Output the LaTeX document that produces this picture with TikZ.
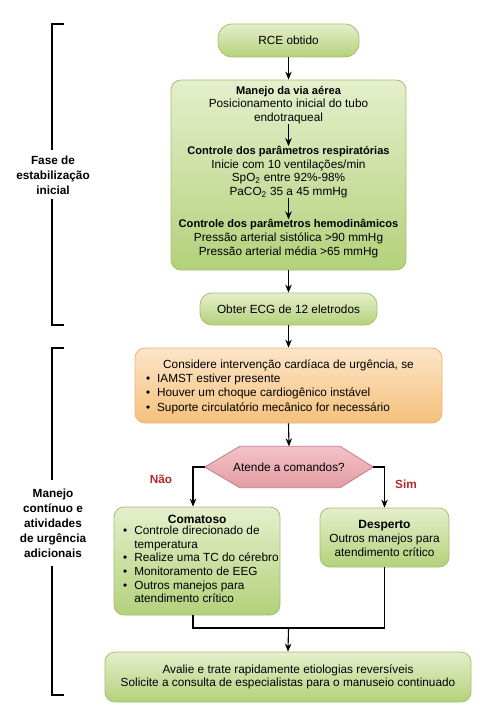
\documentclass[tikz,border=0pt]{standalone}
\usepackage{fontspec}
\setmainfont{Liberation Sans}
\usetikzlibrary{arrows.meta,calc}
\definecolor{gtop}{HTML}{E5EFCC}
\definecolor{gbot}{HTML}{B3D17B}
\definecolor{gline}{HTML}{A2C16C}
\definecolor{otop}{HTML}{FCE5C8}
\definecolor{obot}{HTML}{F5C17C}
\definecolor{oline}{HTML}{E8B578}
\definecolor{ptop}{HTML}{F3C3C7}
\definecolor{pbot}{HTML}{E49CA4}
\definecolor{pline}{HTML}{C77B83}
\definecolor{redlab}{HTML}{B02A30}
\newcommand{\hd}[1]{{\fontsize{11.1}{13.6}\selectfont\bfseries #1}}
\newcommand{\hdb}[1]{{\fontsize{12}{13.6}\selectfont\bfseries #1}}
\begin{document}
\begin{tikzpicture}[x=1pt,y=-1pt,
  every node/.style={font=\fontsize{11.8}{13.6}\selectfont, inner sep=0pt},
  gbox/.style={draw=gline, line width=0.8pt, top color=gtop, bottom color=gbot, rounded corners=10pt},
  obox/.style={draw=oline, line width=0.8pt, top color=otop, bottom color=obot, rounded corners=10pt},
  conn/.style={line width=1.1pt, -{Stealth[length=8pt,width=6.5pt]}},
  plain/.style={line width=1.1pt},
  phase/.style={font=\fontsize{11.8}{15}\selectfont\bfseries, align=center},
  yn/.style={font=\fontsize{11.8}{14}\selectfont\bfseries, text=redlab}
]
\useasboundingbox (0,0) rectangle (485,725);

% top pill
\node[gbox, rounded corners=14pt, minimum width=141pt, minimum height=33pt] (rce) at (288.5,40.5) {RCE obtido};

% big green box
\node[gbox, minimum width=235pt, minimum height=190pt] (big) at (288.5,175) {};
\node[align=center] (t1) at (288.5,105) {\hd{Manejo da via aérea}\\Posicionamento inicial do tubo\\endotraqueal};
\node[align=center] (t2) at (288.5,172) {\hd{Controle dos parâmetros respiratórias}\\Inicie com 10 ventilações/min\\SpO\textsubscript{2} entre 92\%-98\%\\PaCO\textsubscript{2} 35 a 45 mmHg};
\node[align=center] (t3) at (288.5,238.5) {\hd{Controle dos parâmetros hemodinâmicos}\\Pressão arterial sistólica >90 mmHg\\Pressão arterial média >65 mmHg};

% ECG
\node[gbox, rounded corners=12pt, minimum width=177pt, minimum height=32pt] (ecg) at (288.5,309) {Obter ECG de 12 eletrodos};

% orange box
\node[obox, minimum width=307pt, minimum height=75pt] (ora) at (288.5,385.5) {};
\node[align=left] (otext) at (288.5,387.5) {\makebox[285pt][c]{Considere intervenção cardíaca de urgência, se}\\[1pt]
\begin{tabular}{@{}l@{\hspace{7pt}}l@{}}
\textbullet & IAMST estiver presente\\[1pt]
\textbullet & Houver um choque cardiogênico instável\\[1pt]
\textbullet & Suporte circulatório mecânico for necessário
\end{tabular}};

% hexagon decision
\node[minimum width=168pt, minimum height=41pt] (hex) at (289,467) {};
\path[draw=pline, line width=0.8pt, top color=ptop, bottom color=pbot]
  (hex.west) -- ([xshift=35pt]hex.north west) -- ([xshift=-33pt]hex.north east) -- (hex.east)
  -- ([xshift=-33pt]hex.south east) -- ([xshift=35pt]hex.south west) -- cycle;
\node at (hex.center) {Atende a comandos?};

% Comatoso
\node[gbox, minimum width=166pt, minimum height=108pt] (coma) at (197,561) {};
\node[align=left, anchor=north west] (ctext) at (123,515) {\makebox[148pt][c]{\hdb{Comatoso}}\\[0.5pt]
\begin{tabular}{@{}l@{\hspace{7pt}}l@{}}
\textbullet & Controle direcionado de\\
 & temperatura\\
\textbullet & Realize uma TC do cérebro\\
\textbullet & Monitoramento de EEG\\
\textbullet & Outros manejos para\\
 & atendimento crítico
\end{tabular}};

% Desperto
\node[gbox, minimum width=129pt, minimum height=59pt] (desp) at (384.5,537.5) {};
\node[align=center] (dtext) at (384.5,538.5) {\hdb{Desperto}\\Outros manejos para\\atendimento crítico};

% final
\node[gbox, minimum width=366pt, minimum height=50pt, align=center] (fin) at (288,677) {Avalie e trate rapidamente etiologias reversíveis\\Solicite a consulta de especialistas para o manuseio continuado};

% connectors
\draw[conn] (rce.south) -- (big.north);
\draw[conn] (t1.south) -- (t2.north);
\draw[conn] (t2.south) -- (t3.north);
\draw[conn] (big.south) -- (ecg.north);
\draw[conn] (ecg.south) -- (ora.north);
\draw[conn] (ora.south) -- (hex.north);
\draw[conn] (hex.west) -| ([xshift=-4pt]coma.north);
\draw[conn] (hex.east) -| (desp.north);
\coordinate (merge) at (288.5,628);
\draw[plain] ([xshift=-4pt]coma.south) |- (merge) -| (desp.south);
\draw[conn] (merge) -- (fin.north);

\node[yn] (nao) at (161,479) {Não};
\node[yn] (sim) at (406,484) {Sim};

% phase brackets
\node[phase] (ph1) at (53,175) {Fase de\\estabilização\\inicial};
\coordinate (b1a) at (64,24); \coordinate (b1b) at (52,24); \coordinate (b1c) at (52,150);
\coordinate (b1d) at (52,199); \coordinate (b1e) at (52,325); \coordinate (b1f) at (64,325);
\draw[plain] (b1a) -- (b1b) -- (b1c);
\draw[plain] (b1d) -- (b1e) -- (b1f);

\node[phase] (ph2) at (53,523) {Manejo\\contínuo e\\atividades\\de urgência\\adicionais};
\coordinate (b2a) at (64,348); \coordinate (b2b) at (52,348); \coordinate (b2c) at (52,480);
\coordinate (b2d) at (52,566); \coordinate (b2e) at (52,695); \coordinate (b2f) at (64,695);
\draw[plain] (b2a) -- (b2b) -- (b2c);
\draw[plain] (b2d) -- (b2e) -- (b2f);
\end{tikzpicture}
\end{document}
